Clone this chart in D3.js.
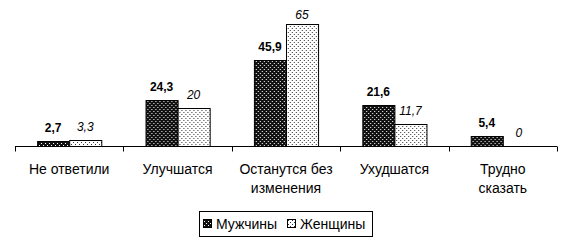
<!DOCTYPE html>
<html>
<head>
<meta charset="utf-8">
<script src="https://cdn.jsdelivr.net/npm/d3@7"></script>
<style>
  body { margin: 0; background: #fff; }
  text { font-family: "Liberation Sans", Arial, sans-serif; }
</style>
</head>
<body>
<div id="chart"></div>
<script>
// данные
const categories = [["Не ответили"], ["Улучшатся"], ["Останутся без", "изменения"], ["Ухудшатся"], ["Трудно", "сказать"]];
const series = ["Мужчины", "Женщины"];
const men = [2.7, 24.3, 45.9, 21.6, 5.4];
const women = [3.3, 20, 65, 11.7, 0];
const labelsMen = ["2,7", "24,3", "45,9", "21,6", "5,4"];
const labelsWomen = ["3,3", "20", "65", "11,7", "0"];

const width = 573, height = 246;
const baseY = 146, topY = 24;

const svg = d3.select("#chart").append("svg")
    .attr("width", width)
    .attr("height", height);

// штриховки
const defs = svg.append("defs");
const pMen = defs.append("pattern").attr("id", "pm")
    .attr("patternUnits", "userSpaceOnUse").attr("width", 4).attr("height", 4);
pMen.append("rect").attr("width", 4).attr("height", 4).attr("fill", "#111");
pMen.append("rect").attr("x", 0).attr("y", 1).attr("width", 1).attr("height", 1).attr("fill", "#fff");
pMen.append("rect").attr("x", 2).attr("y", 3).attr("width", 1).attr("height", 1).attr("fill", "#fff");
const pWomen = defs.append("pattern").attr("id", "pw")
    .attr("patternUnits", "userSpaceOnUse").attr("width", 4).attr("height", 4);
pWomen.append("rect").attr("width", 4).attr("height", 4).attr("fill", "#fff");
pWomen.append("rect").attr("x", 0).attr("y", 0).attr("width", 1).attr("height", 1).attr("fill", "#333");
pWomen.append("rect").attr("x", 2).attr("y", 2).attr("width", 1).attr("height", 1).attr("fill", "#333");
const fills = ["url(#pm)", "url(#pw)"];

// шкалы
const x0 = d3.scaleBand()
    .domain(d3.range(categories.length))
    .range([15, 557])
    .padding(0);
const x1 = d3.scaleBand()
    .domain(series)
    .range([0, x0.bandwidth()])
    .paddingInner(0)
    .paddingOuter(0.69);
const y = d3.scaleLinear()
    .domain([0, 65])
    .range([baseY, topY]);

const rows = categories.map((c, i) => ({
    i,
    vals: [
        { s: series[0], v: men[i], lab: labelsMen[i] },
        { s: series[1], v: women[i], lab: labelsWomen[i] }
    ]
}));

const groups = svg.selectAll("g.cat")
    .data(rows)
    .enter().append("g")
    .attr("class", "cat")
    .attr("transform", d => `translate(${x0(d.i)},0)`);

groups.selectAll("rect")
    .data(d => d.vals.filter(v => v.v > 0))
    .enter().append("rect")
    .attr("x", d => x1(d.s) + 0.5)
    .attr("y", d => Math.round(y(d.v)) + 0.5)
    .attr("width", x1.bandwidth())
    .attr("height", d => baseY - Math.round(y(d.v)))
    .attr("fill", d => fills[series.indexOf(d.s)])
    .attr("stroke", "#000")
    .attr("stroke-width", 1);

groups.selectAll("text.val")
    .data(d => d.vals)
    .enter().append("text")
    .attr("class", "val")
    .attr("x", d => x1(d.s) + x1.bandwidth() / 2)
    .attr("y", d => Math.max(19, y(d.v) - 9))
    .attr("text-anchor", "middle")
    .style("font-size", "12px")
    .style("font-weight", d => d.s === series[0] ? "bold" : "normal")
    .style("font-style", d => d.s === series[1] ? "italic" : "normal")
    .attr("fill", "#000")
    .text(d => d.lab);

// ось X
const axis = svg.append("g")
    .attr("transform", `translate(0,${baseY + 0.5})`);
axis.append("line")
    .attr("x1", 15).attr("x2", 557)
    .attr("stroke", "#000");
axis.selectAll("line.tick")
    .data(d3.range(categories.length + 1))
    .enter().append("line")
    .attr("class", "tick")
    .attr("x1", d => Math.round(15 + d * x0.step()) + 0.5)
    .attr("x2", d => Math.round(15 + d * x0.step()) + 0.5)
    .attr("y1", 0).attr("y2", 5)
    .attr("stroke", "#000");

const catLabels = svg.selectAll("text.cat")
    .data(categories)
    .enter().append("text")
    .attr("class", "cat")
    .attr("x", (d, i) => x0(i) + x0.bandwidth() / 2)
    .attr("y", 174)
    .attr("text-anchor", "middle")
    .style("font-size", "14px")
    .attr("fill", "#000");
catLabels.selectAll("tspan")
    .data(d => d)
    .enter().append("tspan")
    .attr("x", function() { return d3.select(this.parentNode).attr("x"); })
    .attr("dy", (d, i) => i === 0 ? 0 : 19)
    .text(d => d);

// легенда
const legend = svg.append("g");
legend.append("rect")
    .attr("x", 199.5).attr("y", 211.5)
    .attr("width", 173).attr("height", 25)
    .attr("fill", "#fff").attr("stroke", "#000");
const legX = [203, 287];
series.forEach((s, i) => {
    legend.append("rect")
        .attr("x", legX[i] + 0.5).attr("y", 219.5)
        .attr("width", 8).attr("height", 8)
        .attr("fill", fills[i]).attr("stroke", "#000");
    legend.append("text")
        .attr("x", legX[i] + 13)
        .attr("y", 229)
        .style("font-size", "14px")
        .attr("fill", "#000")
        .text(s);
});
</script>
</body>
</html>
